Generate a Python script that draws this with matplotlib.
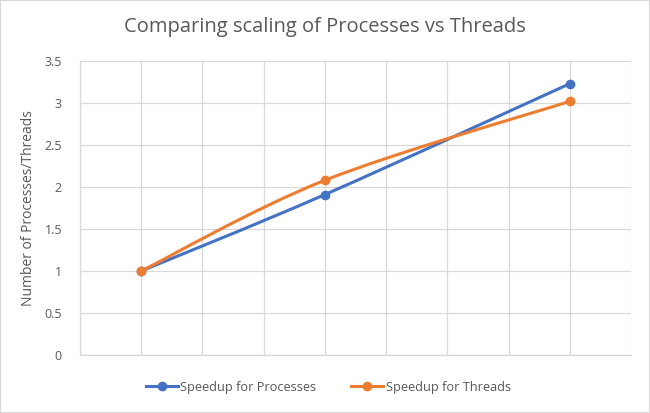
import matplotlib
matplotlib.use("Agg")
import matplotlib.pyplot as plt
from matplotlib.path import Path
from matplotlib.patches import PathPatch, Rectangle
from matplotlib.lines import Line2D
import numpy as np

plt.rcParams['font.family'] = ['Open Sans', 'DejaVu Sans']

# donnees
nombres = [1, 4, 8]
speedup_processus = [1.0, 1.91, 3.23]
speedup_threads = [1.0, 2.08, 3.02]

couleur_processus = '#4472C4'
couleur_threads = '#ED7D31'
couleur_grille = '#D9D9D9'
couleur_texte = '#595959'


def chemin_lisse(xs, ys):
    # courbe lissee a la maniere d'Excel (Catmull-Rom -> Bezier)
    pts = np.column_stack([xs, ys]).astype(float)
    etendu = np.vstack([pts[0], pts, pts[-1]])
    sommets = [pts[0]]
    codes = [Path.MOVETO]
    for i in range(1, len(etendu) - 2):
        p0, p1, p2, p3 = etendu[i - 1], etendu[i], etendu[i + 1], etendu[i + 2]
        c1 = p1 + (p2 - p0) / 6.0
        c2 = p2 - (p3 - p1) / 6.0
        sommets += [c1, c2, p2]
        codes += [Path.CURVE4] * 3
    return Path(sommets, codes)


figura = plt.figure(figsize=(6.5, 4.13), dpi=100)
figura.patches.append(Rectangle((0, 0), 1, 1, transform=figura.transFigure,
                                fill=False, edgecolor='#D9D9D9', linewidth=1.5))

eixo = figura.add_axes([80 / 650, 58 / 413, 551 / 650, 294 / 413])

for xs, ys, cor in [(nombres, speedup_processus, couleur_processus),
                    (nombres, speedup_threads, couleur_threads)]:
    eixo.add_patch(PathPatch(chemin_lisse(xs, ys), facecolor='none',
                             edgecolor=cor, linewidth=2.2, zorder=3,
                             capstyle='round'))
    eixo.plot(xs, ys, linestyle='none', marker='o', markersize=6,
              color=cor, zorder=4)

eixo.set_xlim(0, 9)
eixo.set_ylim(0, 3.5)
eixo.set_xticks(np.arange(0, 10, 1))
eixo.set_yticks(np.arange(0, 3.51, 0.5))
eixo.set_yticklabels(['0', '0.5', '1', '1.5', '2', '2.5', '3', '3.5'])
eixo.tick_params(axis='x', length=0, labelbottom=False)
eixo.tick_params(axis='y', length=0, pad=13, labelsize=9,
                 labelcolor=couleur_texte)
eixo.grid(True, color=couleur_grille, linewidth=0.9)
eixo.set_axisbelow(True)
for lado in eixo.spines.values():
    lado.set_color(couleur_grille)
    lado.set_linewidth(0.9)
eixo.spines['top'].set_visible(False)
eixo.spines['right'].set_visible(False)

eixo.set_ylabel('Number of Processes/Threads', fontsize=10,
                color=couleur_texte, labelpad=6)

figura.text(0.5, 1 - 27 / 413, 'Comparing scaling of Processes vs Threads',
            ha='center', va='center', fontsize=14.5, color=couleur_texte)

poignees = [Line2D([0], [0], color=couleur_processus, linewidth=2.2,
                   marker='o', markersize=6),
            Line2D([0], [0], color=couleur_threads, linewidth=2.2,
                   marker='o', markersize=6)]
figura.legend(poignees, ['Speedup for Processes', 'Speedup for Threads'],
              loc='center', bbox_to_anchor=(0.505, 1 - 387 / 413), ncol=2,
              frameon=False, fontsize=9.2, labelcolor=couleur_texte,
              handlelength=2.5, handletextpad=0.2, columnspacing=2.7)

figura.savefig('out.png', dpi=100)
